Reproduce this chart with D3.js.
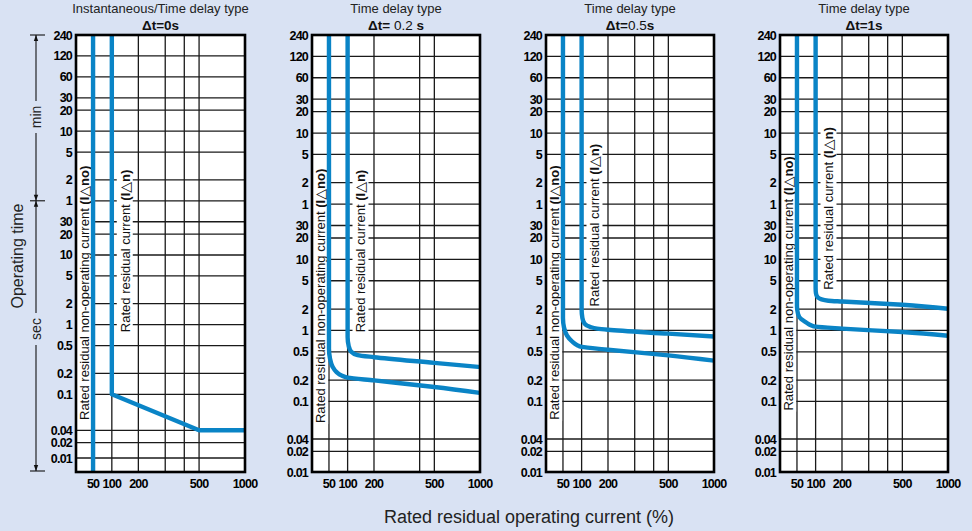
<!DOCTYPE html>
<html><head><meta charset="utf-8">
<script src="https://cdn.jsdelivr.net/npm/d3@7"></script>
<style>
body{margin:0;background:#d9e2f3;}
svg{display:block;font-family:"Liberation Sans",Arial,Helvetica,sans-serif;}
</style></head><body>
<svg id="c" width="972" height="531"></svg>
<script>
// ---------- data ----------
const panelTitles = ["Instantaneous/Time delay type","Time delay type","Time delay type","Time delay type"];
const deltaParts = [
  [["Δt=0s",true]],
  [["Δt=",true],[" 0.2 ",false],["s",true]],
  [["Δt=",true],["0.5",false],["s",true]],
  [["Δt=1s",true]]
];
const yTickLabels = ["240","120","60","30","20","10","5","2","1","30","20","10","5","2","1","0.5","0.2","0.1","0.04","0.02","0.01"];
const yTickSeconds = [14400,7200,3600,1800,1200,600,300,120,60,30,20,10,5,2,1,0.5,0.2,0.1,0.04,0.02,0.01];
const xTicks = [50,100,200,500,1000];
const xGrid = [[50,100,200,300,400,500],[50,100,200,400,500],[50,100,200,300,400,500],[50,100,200,300,400,500]];
// operating characteristic curves: [current %, operating time s]
const noCurves = [
  [[50,14400],[50,0.0055]],
  [[50,14400],[50,0.55],[52,0.4],[57,0.31],[66,0.26],[80,0.232],[100,0.217],[200,0.198],[500,0.16],[1000,0.132]],
  [[50,14400],[50,1.5],[52,1.1],[58,0.85],[70,0.7],[85,0.62],[100,0.585],[200,0.535],[500,0.445],[1000,0.375]],
  [[50,14400],[50,2.2],[52,1.7],[58,1.45],[70,1.3],[85,1.18],[100,1.13],[200,1.06],[500,0.95],[1000,0.84]]
];
const nCurves = [
  [[100,14400],[100,0.1],[500,0.04],[1000,0.04]],
  [[100,14400],[100,0.8],[103,0.6],[110,0.5],[130,0.45],[200,0.42],[500,0.35],[1000,0.305]],
  [[100,14400],[100,2],[102,1.5],[108,1.25],[125,1.12],[150,1.06],[200,1.02],[500,0.9],[1000,0.82]],
  [[100,14400],[100,4],[101,3.3],[105,2.95],[115,2.75],[140,2.62],[200,2.55],[500,2.3],[1000,2.02]]
];
const labelStartNo = [0.052,0.059,0.064,0.08];
const labelStartN = [0.78,0.94,2.18,3.73];
const xTitle = "Rated residual operating current (%)";
const yTitle = "Operating time";

// ---------- layout ----------
const BG = "#d9e2f3", BLUE = "#0a84c6", GRID = "#1a1a1a";
const panelLeft = [76,312,546,780], panelWidth = [169,168,168,168];
const TOP = 35, H = 437;

const svg = d3.select("#c");
svg.append("rect").attr("width",972).attr("height",531).attr("fill",BG);

function yScaleFor(i){
  if(i===0) return d3.scaleLog().domain([14400,0.1,0.04,0.02,0.01,0.0055])
      .range([0,.8222,.9046,.933,.968,1].map(f=>TOP+f*H));
  return d3.scaleLog().domain([14400,0.1,0.04,0.02,0.01])
      .range([0,.8386,.9245,.9529,1].map(f=>TOP+f*H));
}

function addLabel(g, cx, y0, parts){
  const gg = g.append("g").attr("transform",`translate(${cx},${y0}) rotate(-90)`);
  const t = gg.append("text").attr("font-size",13).attr("dy","0.36em").attr("fill","#111");
  parts.forEach(p=>t.append("tspan").text(p[0]).attr("font-weight",p[1]?"bold":"normal")
     .attr("font-family", p[2]?"DejaVu Sans":null).attr("font-size",p[2]?14:null));
  const bb = t.node().getBBox();
  gg.insert("rect","text").attr("x",bb.x-1).attr("y",bb.y).attr("width",bb.width+2).attr("height",bb.height).attr("fill","#fff");
}

for(let i=0;i<4;i++){
  const L = panelLeft[i], W = panelWidth[i];
  const x = d3.scaleLog().domain([30,50,100,200,1000]).range([0,.101,.212,.369,1].map(f=>L+f*W));
  const y = yScaleFor(i);
  const g = svg.append("g");
  g.append("rect").attr("x",L).attr("y",TOP).attr("width",W).attr("height",H).attr("fill","#fff");
  // grid
  g.selectAll("line.h").data(yTickSeconds.filter(v=>y(v)<TOP+H-1)).join("line")
    .attr("x1",L).attr("x2",L+W).attr("y1",d=>y(d)).attr("y2",d=>y(d))
    .attr("stroke",GRID).attr("stroke-width",1.3);
  g.selectAll("line.v").data(xGrid[i]).join("line")
    .attr("x1",d=>x(d)).attr("x2",d=>x(d)).attr("y1",TOP).attr("y2",TOP+H)
    .attr("stroke",GRID).attr("stroke-width",1.3);
  // labels
  addLabel(g,(L+x(50))/2,y(labelStartNo[i]),[["Rated residual non-operating current ",false],["(I",true],["△",false,true],["no)",true]]);
  addLabel(g,(x(100)+x(200))/2,y(labelStartN[i]),[["Rated residual current ",false],["(I",true],["△",false,true],["n)",true]]);
  // curves
  const cid = "clip"+i;
  svg.append("clipPath").attr("id",cid).append("rect").attr("x",L).attr("y",TOP).attr("width",W).attr("height",H);
  const line = d3.line().x(d=>x(d[0])).y(d=>y(d[1])).curve(i===0?d3.curveLinear:d3.curveMonotoneY);
  [noCurves[i], nCurves[i]].forEach(c=>{
    g.append("path").attr("d",line(c)).attr("fill","none").attr("stroke",BLUE)
      .attr("stroke-width",4.4).attr("stroke-linejoin","round").attr("clip-path",`url(#${cid})`);
  });
  // border
  g.append("rect").attr("x",L).attr("y",TOP).attr("width",W).attr("height",H)
    .attr("fill","none").attr("stroke","#000").attr("stroke-width",2.6);
  // y tick labels
  g.selectAll("text.yt").data(yTickSeconds).join("text")
    .attr("x",L-4).attr("y",d=>y(d)).attr("dy","0.36em").attr("text-anchor","end")
    .attr("font-size",12.5).attr("font-weight","bold").attr("letter-spacing","-0.8")
    .attr("fill","#000").text((d,k)=>yTickLabels[k]);
  // x tick labels
  g.selectAll("text.xt").data(xTicks).join("text")
    .attr("x",d=>x(d)).attr("y",TOP+H+16).attr("text-anchor","middle")
    .attr("font-size",12.5).attr("font-weight","bold").attr("letter-spacing","-0.8")
    .attr("fill","#000").text(d=>String(d));
  // titles
  const cx = L+W/2;
  g.append("text").attr("x",cx).attr("y",13).attr("text-anchor","middle").attr("font-size",13)
    .attr("fill","#222").text(panelTitles[i]);
  const t2 = g.append("text").attr("x",cx).attr("y",29.5).attr("text-anchor","middle").attr("font-size",13.5).attr("fill","#111");
  deltaParts[i].forEach(p=>t2.append("tspan").text(p[0]).attr("font-weight",p[1]?"bold":"normal"));
}

// left bracket (min / sec)
{
  const y = yScaleFor(0);
  const bx = 36, yTop = y(14400), yMid = y(60), yBot = TOP+H-1;
  const g = svg.append("g").attr("stroke","#111").attr("stroke-width",1.1);
  [yTop,yMid,yBot].forEach(v=>g.append("line").attr("x1",bx-6).attr("x2",bx+9).attr("y1",v).attr("y2",v));
  const minC = (yTop+yMid)/2 - 1, secC = 329;
  g.append("line").attr("x1",bx).attr("x2",bx).attr("y1",yTop).attr("y2",minC-16);
  g.append("line").attr("x1",bx).attr("x2",bx).attr("y1",minC+16).attr("y2",yMid);
  g.append("line").attr("x1",bx).attr("x2",bx).attr("y1",yMid).attr("y2",secC-16);
  g.append("line").attr("x1",bx).attr("x2",bx).attr("y1",secC+16).attr("y2",yBot);
  const arrow = (yy,dir)=>svg.append("path")
    .attr("d",`M${bx},${yy} L${bx-2.2},${yy+dir*6} L${bx+2.2},${yy+dir*6} Z`).attr("fill","#111");
  arrow(yTop,1); arrow(yMid,-1); arrow(yMid,1); arrow(yBot,-1);
  svg.append("text").attr("transform",`translate(${bx},${minC}) rotate(-90)`).attr("text-anchor","middle")
    .attr("dy","0.36em").attr("font-size",14).attr("fill","#222").text("min");
  svg.append("text").attr("transform",`translate(${bx},${secC}) rotate(-90)`).attr("text-anchor","middle")
    .attr("dy","0.36em").attr("font-size",14).attr("fill","#222").text("sec");
  svg.append("text").attr("transform",`translate(17,256) rotate(-90)`).attr("text-anchor","middle")
    .attr("dy","0.36em").attr("font-size",16).attr("fill","#222").text(yTitle);
}
svg.append("text").attr("x",529).attr("y",523).attr("text-anchor","middle").attr("font-size",18)
  .attr("fill","#222").text(xTitle);
</script>
</body></html>
